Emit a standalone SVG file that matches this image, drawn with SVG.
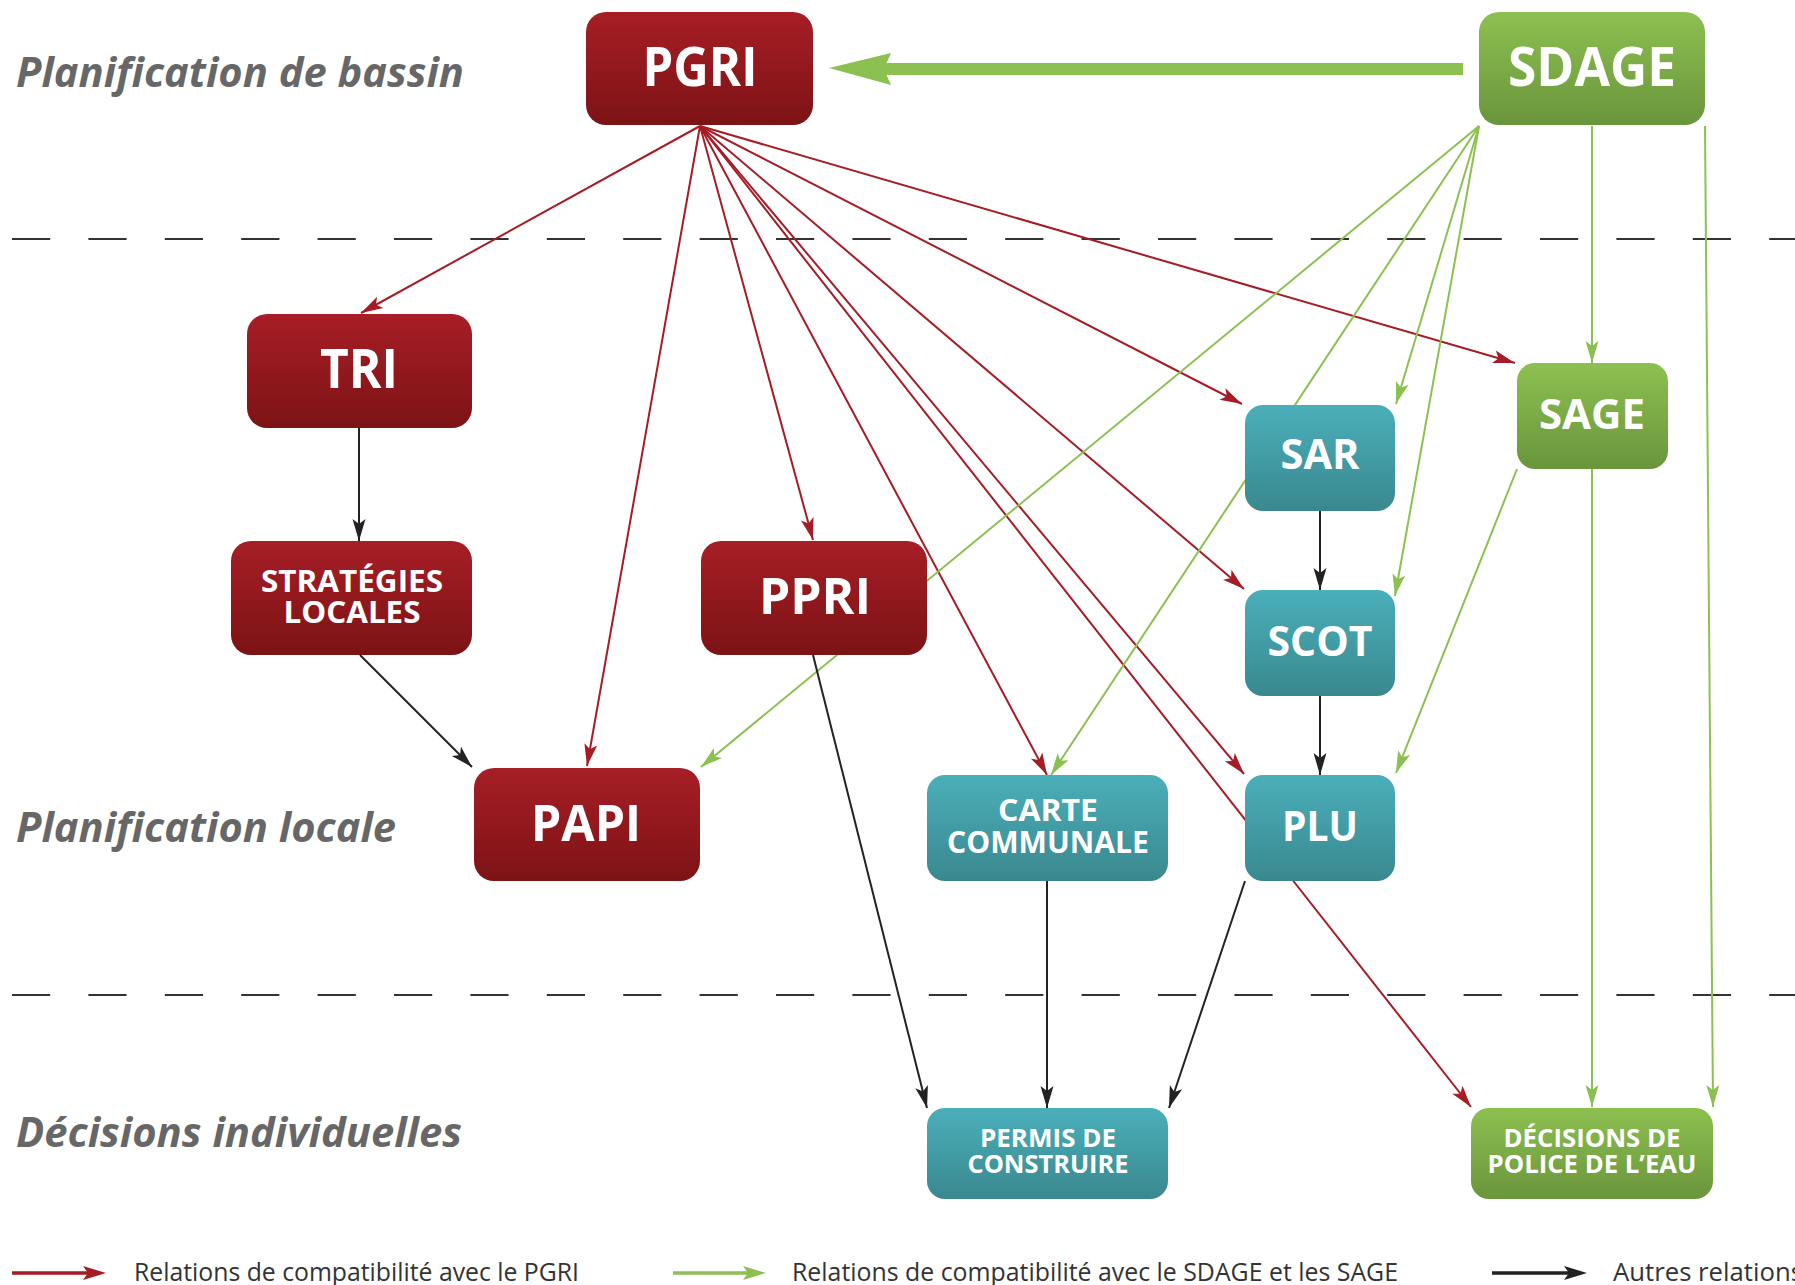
<svg xmlns="http://www.w3.org/2000/svg" width="1795" height="1285" viewBox="0 0 1795 1285">
<defs>
<linearGradient id="gRed" x1="0" y1="0" x2="0" y2="1"><stop offset="0" stop-color="#a71e26"/><stop offset="1" stop-color="#7c1315"/></linearGradient>
<linearGradient id="gGreen" x1="0" y1="0" x2="0" y2="1"><stop offset="0" stop-color="#8dc051"/><stop offset="1" stop-color="#6a953c"/></linearGradient>
<linearGradient id="gTeal" x1="0" y1="0" x2="0" y2="1"><stop offset="0" stop-color="#4aafba"/><stop offset="1" stop-color="#3a888e"/></linearGradient>
<marker id="ahRed" markerUnits="userSpaceOnUse" markerWidth="26" markerHeight="18" viewBox="-24 -9 26 18" refX="0" refY="0" orient="auto"><path d="M0,0 L-22,-6.5 L-17,0 L-22,6.5 Z" fill="#a51c24"/></marker>
<marker id="ahGreen" markerUnits="userSpaceOnUse" markerWidth="26" markerHeight="18" viewBox="-24 -9 26 18" refX="0" refY="0" orient="auto"><path d="M0,0 L-22,-6.5 L-17,0 L-22,6.5 Z" fill="#8cc152"/></marker>
<marker id="ahBlack" markerUnits="userSpaceOnUse" markerWidth="26" markerHeight="18" viewBox="-24 -9 26 18" refX="0" refY="0" orient="auto"><path d="M0,0 L-22,-6.5 L-17,0 L-22,6.5 Z" fill="#222222"/></marker>
</defs>
<style>
.red{fill:url(#gRed)}
.green{fill:url(#gGreen)}
.teal{fill:url(#gTeal)}
.lbl{font-family:"Open Sans","DejaVu Sans",sans-serif;font-weight:700;fill:#ffffff;text-anchor:middle}
.sec{font-family:"Open Sans","DejaVu Sans",sans-serif;font-weight:700;font-style:italic;fill:#676767;font-size:42px}
.leg{font-family:"Open Sans","DejaVu Sans",sans-serif;font-weight:400;fill:#333333;font-size:25px}
.cr{stroke:#a51c24;stroke-width:2;fill:none;marker-end:url(#ahRed)}
.cg{stroke:#8cc152;stroke-width:2;fill:none;marker-end:url(#ahGreen)}
.cb{stroke:#222222;stroke-width:2;fill:none;marker-end:url(#ahBlack)}
.dash{stroke:#333333;stroke-width:2;stroke-dasharray:38.2 38.2;fill:none}
</style>
<rect width="1795" height="1285" fill="#ffffff"/>

<g id="separators">
<line class="dash" x1="12" y1="239" x2="1795" y2="239"/>
<line class="dash" x1="12" y1="995" x2="1795" y2="995"/>
</g>

<g id="section-labels">
<text class="sec" x="16" y="87" textLength="448" lengthAdjust="spacingAndGlyphs">Planification de bassin</text>
<text class="sec" x="16" y="842" textLength="380" lengthAdjust="spacingAndGlyphs">Planification locale</text>
<text class="sec" x="16" y="1147" textLength="446" lengthAdjust="spacingAndGlyphs">Décisions individuelles</text>
</g>

<g id="connectors">
<line class="cr" x1="700" y1="126" x2="361" y2="313"/>
<line class="cr" x1="700" y1="126" x2="587" y2="766"/>
<line class="cr" x1="700" y1="126" x2="813" y2="540"/>
<line class="cr" x1="700" y1="126" x2="1047" y2="775"/>
<line class="cr" x1="700" y1="126" x2="1244" y2="774"/>
<line class="cr" x1="700" y1="126" x2="1471" y2="1107"/>
<line class="cr" x1="700" y1="126" x2="1244" y2="589"/>
<line class="cr" x1="700" y1="126" x2="1242" y2="404"/>
<line class="cr" x1="700" y1="126" x2="1515" y2="363"/>

<line x1="1463" y1="69" x2="884" y2="69" stroke="#8cc152" stroke-width="12"/>
<path d="M829,68 L891,53 L884,69 L891,85 Z" fill="#8cc152"/>
<line class="cg" x1="1479" y1="126" x2="701" y2="767"/>
<line class="cg" x1="1479" y1="126" x2="1051" y2="775"/>
<line class="cg" x1="1479" y1="126" x2="1396" y2="404"/>
<line class="cg" x1="1479" y1="126" x2="1395" y2="596"/>
<line class="cg" x1="1592" y1="126" x2="1592" y2="363"/>
<line class="cg" x1="1705" y1="126" x2="1713" y2="1107"/>
<line class="cg" x1="1592" y1="469" x2="1592" y2="1107"/>
<line class="cg" x1="1517" y1="469" x2="1396" y2="773"/>

<line class="cb" x1="359" y1="428" x2="359" y2="541"/>
<line class="cb" x1="360" y1="655" x2="472" y2="767"/>
<line class="cb" x1="1320" y1="511" x2="1320" y2="590"/>
<line class="cb" x1="1320" y1="696" x2="1320" y2="775"/>
<line class="cb" x1="813" y1="655" x2="927" y2="1108"/>
<line class="cb" x1="1047" y1="881" x2="1047" y2="1108"/>
<line class="cb" x1="1245" y1="881" x2="1169" y2="1108"/>
</g>

<g id="node-pgri"><rect class="red" x="586" y="12" width="227" height="113" rx="20"/><text class="lbl" x="700" y="86" font-size="53" textLength="115" lengthAdjust="spacingAndGlyphs">PGRI</text></g>
<g id="node-sdage"><rect class="green" x="1479" y="12" width="226" height="113" rx="20"/><text class="lbl" x="1592" y="86" font-size="53" textLength="168" lengthAdjust="spacingAndGlyphs">SDAGE</text></g>
<g id="node-tri"><rect class="red" x="247" y="314" width="225" height="114" rx="20"/><text class="lbl" x="359" y="388" font-size="53" textLength="78" lengthAdjust="spacingAndGlyphs">TRI</text></g>
<g id="node-strategies"><rect class="red" x="231" y="541" width="241" height="114" rx="20"/><text class="lbl" x="352" y="592" font-size="31" textLength="182" lengthAdjust="spacingAndGlyphs">STRATÉGIES</text><text class="lbl" x="352" y="623" font-size="31" textLength="137" lengthAdjust="spacingAndGlyphs">LOCALES</text></g>
<g id="node-ppri"><rect class="red" x="701" y="541" width="226" height="114" rx="20"/><text class="lbl" x="815" y="614" font-size="50" textLength="112" lengthAdjust="spacingAndGlyphs">PPRI</text></g>
<g id="node-papi"><rect class="red" x="474" y="768" width="226" height="113" rx="20"/><text class="lbl" x="586" y="841" font-size="50" textLength="110" lengthAdjust="spacingAndGlyphs">PAPI</text></g>
<g id="node-sar"><rect class="teal" x="1245" y="405" width="150" height="106" rx="18"/><text class="lbl" x="1320" y="469" font-size="41" textLength="79" lengthAdjust="spacingAndGlyphs">SAR</text></g>
<g id="node-sage"><rect class="green" x="1517" y="363" width="151" height="106" rx="18"/><text class="lbl" x="1592" y="429" font-size="41" textLength="106" lengthAdjust="spacingAndGlyphs">SAGE</text></g>
<g id="node-scot"><rect class="teal" x="1245" y="590" width="150" height="106" rx="18"/><text class="lbl" x="1320" y="656" font-size="41" textLength="105" lengthAdjust="spacingAndGlyphs">SCOT</text></g>
<g id="node-plu"><rect class="teal" x="1245" y="775" width="150" height="106" rx="18"/><text class="lbl" x="1320" y="841" font-size="41" textLength="76" lengthAdjust="spacingAndGlyphs">PLU</text></g>
<g id="node-carte"><rect class="teal" x="927" y="775" width="241" height="106" rx="18"/><text class="lbl" x="1048" y="821" font-size="31" textLength="100" lengthAdjust="spacingAndGlyphs">CARTE</text><text class="lbl" x="1048" y="853" font-size="31" textLength="202" lengthAdjust="spacingAndGlyphs">COMMUNALE</text></g>
<g id="node-permis"><rect class="teal" x="927" y="1108" width="241" height="91" rx="18"/><text class="lbl" x="1048" y="1147" font-size="25" textLength="136" lengthAdjust="spacingAndGlyphs">PERMIS DE</text><text class="lbl" x="1048" y="1173" font-size="25" textLength="161" lengthAdjust="spacingAndGlyphs">CONSTRUIRE</text></g>
<g id="node-police"><rect class="green" x="1471" y="1108" width="242" height="91" rx="18"/><text class="lbl" x="1592" y="1147" font-size="25" textLength="177" lengthAdjust="spacingAndGlyphs">DÉCISIONS DE</text><text class="lbl" x="1592" y="1173" font-size="25" textLength="209" lengthAdjust="spacingAndGlyphs">POLICE DE L’EAU</text></g>

<g id="legend">
<line x1="12" y1="1273" x2="90" y2="1273" stroke="#a51c24" stroke-width="3.5"/>
<path d="M106,1273 L83,1266 L88,1273 L83,1280 Z" fill="#a51c24"/>
<text class="leg" x="134" y="1281" textLength="445" lengthAdjust="spacingAndGlyphs">Relations de compatibilité avec le PGRI</text>
<line x1="673" y1="1273" x2="750" y2="1273" stroke="#8cc152" stroke-width="3.5"/>
<path d="M766,1273 L743,1266 L748,1273 L743,1280 Z" fill="#8cc152"/>
<text class="leg" x="792" y="1281" textLength="606" lengthAdjust="spacingAndGlyphs">Relations de compatibilité avec le SDAGE et les SAGE</text>
<line x1="1492" y1="1273" x2="1571" y2="1273" stroke="#222222" stroke-width="3.5"/>
<path d="M1587,1273 L1564,1266 L1569,1273 L1564,1280 Z" fill="#222222"/>
<text class="leg" x="1613" y="1281" textLength="190" lengthAdjust="spacingAndGlyphs">Autres relations</text>
</g>
</svg>
